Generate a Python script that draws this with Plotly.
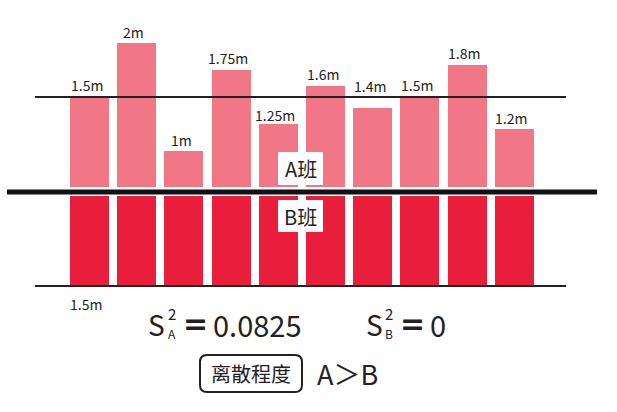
import plotly.graph_objects as go

W, H = 617, 412

# ---- data ----
students = list(range(10))
class_a = [1.5, 2, 1, 1.75, 1.25, 1.6, 1.4, 1.5, 1.8, 1.2]
class_a_labels = ["1.5m", "2m", "1m", "1.75m", "1.25m", "1.6m", "1.4m", "1.5m", "1.8m", "1.2m"]
label_raise = [12, 11, 11, 12, 9, 12, 22, 12, 12, 11]
class_b = [1.5] * 10
mean_a = 1.5
mean_b = 1.5
var_a_text = "0.0825"
var_b_text = "0"

PINK = "#F27786"
RED = "#E81E3A"
INK = "#222222"
FONT = "Liberation Sans Narrow, Noto Sans CJK SC, sans-serif"
CJK = "Noto Sans CJK SC, sans-serif"

def px(x):
    return x / W

def py(y):
    return 1 - y / H

pitch = 47.2
c0 = 89.5
yscale = 107.4
ystart = 0.662

fig = go.Figure()
fig.add_trace(go.Bar(
    x=students, y=class_a, marker=dict(color=PINK, line=dict(width=0)),
    width=39 / pitch, xaxis="x", yaxis="y", showlegend=False, hoverinfo="skip",
))
fig.add_trace(go.Bar(
    x=students, y=class_b, marker=dict(color=RED, line=dict(width=0)),
    width=39 / pitch, xaxis="x", yaxis="y2", showlegend=False, hoverinfo="skip",
))

xr = [-c0 / pitch, (W - c0) / pitch]
top_dom = [py(187), 1.0]
bot_dom = [0.0, py(196)]
fig.update_layout(
    width=W, height=H, margin=dict(l=0, r=0, t=0, b=0),
    paper_bgcolor="white", plot_bgcolor="rgba(0,0,0,0)",
    xaxis=dict(range=xr, domain=[0, 1], visible=False, fixedrange=True),
    yaxis=dict(range=[ystart, ystart + 187 / yscale], domain=top_dom, visible=False,
               fixedrange=True),
    yaxis2=dict(range=[ystart + 216 / yscale, ystart], domain=bot_dom, visible=False,
                anchor="x", fixedrange=True),
    bargap=0,
)

shapes = []
xl0 = (35 - c0) / pitch
xl1 = (566 - c0) / pitch
shapes.append(dict(type="line", xref="x", yref="y", x0=xl0, x1=xl1, y0=mean_a, y1=mean_a,
                   line=dict(color=INK, width=2)))
shapes.append(dict(type="line", xref="x", yref="y2", x0=xl0, x1=xl1, y0=mean_b, y1=mean_b,
                   line=dict(color=INK, width=2)))
shapes.append(dict(type="line", xref="paper", yref="paper", x0=px(7), x1=px(597),
                   y0=py(192), y1=py(192), line=dict(color="#111111", width=5)))
for (y0, y1) in [(152, 185), (200, 232)]:
    shapes.append(dict(type="rect", xref="paper", yref="paper", x0=px(278), x1=px(323),
                       y0=py(y1), y1=py(y0), fillcolor="white", line=dict(width=0)))
bx0, bx1, by0, by1, r = 200, 302, 355, 392, 7
path = (f"M {px(bx0 + r)} {py(by0)} L {px(bx1 - r)} {py(by0)} "
        f"Q {px(bx1)} {py(by0)} {px(bx1)} {py(by0 + r)} "
        f"L {px(bx1)} {py(by1 - r)} Q {px(bx1)} {py(by1)} {px(bx1 - r)} {py(by1)} "
        f"L {px(bx0 + r)} {py(by1)} Q {px(bx0)} {py(by1)} {px(bx0)} {py(by1 - r)} "
        f"L {px(bx0)} {py(by0 + r)} Q {px(bx0)} {py(by0)} {px(bx0 + r)} {py(by0)} Z")
shapes.append(dict(type="path", xref="paper", yref="paper", path=path,
                   line=dict(color=INK, width=2)))
fig.update_layout(shapes=shapes)

ann = []
for xi, v, lab, up in zip(students, class_a, class_a_labels, label_raise):
    ann.append(dict(xref="x", yref="y", x=xi - 0.06, y=v, yshift=up, text=lab, showarrow=False,
                    xanchor="center", yanchor="middle",
                    font=dict(family=FONT, size=14, color=INK)))

def text(x, y, s, size, family=FONT, xanchor="center", color=INK):
    ann.append(dict(xref="paper", yref="paper", x=px(x), y=py(y), text=s, showarrow=False,
                    xanchor=xanchor, yanchor="middle", borderpad=0,
                    font=dict(family=family, size=size, color=color)))

text(300.5, 168.5, "A班", 20, CJK)
text(300.5, 216, "B班", 20, CJK)
text(86, 304, "1.5m", 14)

text(147, 324, "S", 28, xanchor="left")
text(172, 313, "2", 15)
text(172, 333, "A", 12)
text(209, 323, "<b>=</b>", 30, "DejaVu Sans", xanchor="right")
text(212, 324, var_a_text, 29, xanchor="left")
text(365, 324, "S", 28, xanchor="left")
text(389, 313, "2", 15)
text(389, 333, "B", 12)
text(426, 323, "<b>=</b>", 30, "DejaVu Sans", xanchor="right")
text(429, 324, var_b_text, 29, xanchor="left")

text(251, 373, "离散程度", 20, CJK)
text(316, 373, "A＞B", 27, CJK, xanchor="left")
fig.update_layout(annotations=ann)

fig.write_html("out.html", config={"displayModeBar": False},
               post_script="document.body.style.margin='0px';")
